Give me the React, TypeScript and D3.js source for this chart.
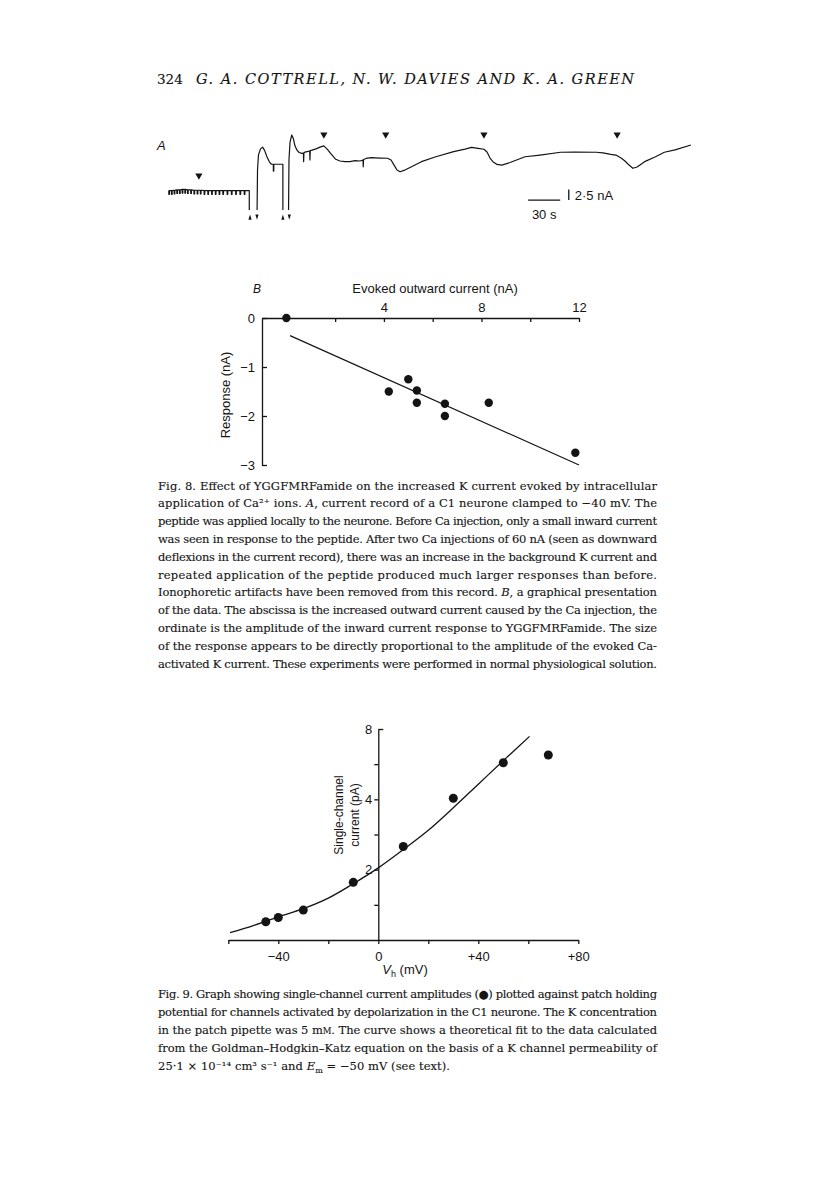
import React, { useRef, useEffect } from 'react';
import * as d3 from 'd3';

const SANS = '"Liberation Sans", Arial, sans-serif';
const SERIF = '"DejaVu Serif", serif';
const INK = '#141414';

// Fig. 8A current record: time (s), current (nA, relative to starting baseline)
const pulseTimes = [0.5, 3, 5.5, 8, 10.5, 13, 15.5, 18, 21, 24, 27, 30, 33.5, 37, 40.5, 44, 47.5, 51, 55, 59, 63, 67, 71];
const pulseLevels = [0, 0, 0.1, 0.2, 0.2, 0.3, 0.3, 0.2, 0.2, 0.1, 0.1, 0.1, 0, 0, 0, 0, 0, 0, 0, 0, 0, 0, 0];
const firstCaResponse = [
  [82.7, -4.5], [83.1, 4.85], [84.0, 8.4], [85.9, 9.8], [87.8, 10.2], [89.6, 9.5], [92.0, 7.9],
  [94.3, 6.7], [96.1, 6.2], [97.9, 6.2], [97.9, 4.6], [98.3, 4.6], [98.3, 6.2], [106.8, 6.2], [106.8, -4.5],
];
const secondCaResponse = [
  [112.1, -4.5], [112.5, 7.2], [113.5, 11.4], [115.1, 13.05], [116.7, 12.1], [118.1, 10.5], [120.0, 9.5],
  [121.9, 8.95], [124.5, 8.75], [126.0, 8.8], [126.2, 6.8], [126.5, 8.9], [127.5, 9.05], [130.3, 9.2],
  [131.9, 9.3], [132.1, 7.2], [132.4, 9.4], [134.0, 9.5], [137.8, 9.8], [141.5, 10.2], [145.1, 10.5],
  [148.0, 9.8], [151.8, 8.6], [156.2, 7.35], [160.2, 6.95], [164.9, 6.8], [169.5, 6.8], [174.2, 7.05],
  [178.9, 6.95], [181.7, 7.2], [181.9, 5.6], [182.2, 7.3], [184.5, 7.55], [189.5, 7.75], [197.6, 7.65],
  [204.6, 7.6], [207.9, 7.2], [210.7, 6.0], [213.5, 4.85], [216.3, 4.45], [220.0, 4.75], [225.6, 5.45],
  [236.3, 6.8], [249.0, 7.9], [266.4, 9.15], [277.0, 9.75], [283.0, 10.15], [289.2, 9.9], [294.7, 9.7],
  [297.6, 9.05], [300.4, 7.65], [303.1, 6.8], [306.9, 6.15], [311.4, 6.0], [319.1, 6.6], [333.1, 7.95],
  [347.1, 8.35], [366.4, 9.0], [379.8, 9.05], [399.8, 9.0], [406.0, 8.85], [413.2, 8.5], [418.1, 8.35],
  [423.2, 7.6], [426.5, 6.95], [430.3, 6.0], [433.9, 5.25], [437.8, 5.55], [444.9, 6.8], [454.6, 7.9],
  [463.3, 9.0], [473.3, 9.55], [488.2, 10.7],
];
const peptideTimes = [28.3, 145.1, 202.9, 294.7, 419.2];
const peptideLevels = [3.3, 12.9, 12.9, 12.9, 12.9];
const caStartTimes = [76.1, 106.8];
const caStopTimes = [82.6, 112.8];
const scaleBarTimes = [336, 366];
const scaleBarCurrents = [-2.2, 0.3];

// Fig. 8B
const evokedCurrent = [0, 4.2, 5.0, 5.35, 5.35, 6.5, 6.5, 8.3, 11.85];
const responseAmp = [0, -1.5, -1.25, -1.48, -1.73, -1.75, -2.0, -1.73, -2.75];
const fitEvoked = [0.15, 12];
const fitResponse = [-0.36, -3.0];
const evokedTicks = [2, 4, 6, 8, 10, 12];
const evokedLabelled = [4, 8, 12];
const responseTicks = [0, -1, -2, -3];

// Fig. 9
const holdingPotential = [-45, -40, -30, -10, 10, 30, 50, 68];
const channelCurrent = [0.52, 0.64, 0.85, 1.64, 2.66, 4.03, 5.04, 5.26];
const ghkV = [-59.3, -50, -40, -30, -20, -10, 0, 10, 20, 30, 40, 50, 60.5];
const ghkI = [0.21, 0.41, 0.66, 0.89, 1.19, 1.6, 2.05, 2.57, 3.12, 3.76, 4.43, 5.1, 5.79];
const vTicks = [-60, -40, -20, 0, 20, 40, 60, 80];
const vTickLabels = ['', '\u221240', '', '0', '', '+40', '', '+80'];
const iTicks = [1, 2, 3, 4, 5, 6];
const iTickLabels = ['', '2', '', '4', '', '8'];

const fig8Caption = [
  'Fig. 8. Effect of YGGFMRFamide on the increased K current evoked by intracellular',
  'application of Ca\u00b2\u207a ions. *A*, current record of a C1 neurone clamped to \u221240 mV. The',
  'peptide was applied locally to the neurone. Before Ca injection, only a small inward current',
  'was seen in response to the peptide. After two Ca injections of 60 nA (seen as downward',
  'deflexions in the current record), there was an increase in the background K current and',
  'repeated application of the peptide produced much larger responses than before.',
  'Ionophoretic artifacts have been removed from this record. *B*, a graphical presentation',
  'of the data. The abscissa is the increased outward current caused by the Ca injection, the',
  'ordinate is the amplitude of the inward current response to YGGFMRFamide. The size',
  'of the response appears to be directly proportional to the amplitude of the evoked Ca-',
  'activated K current. These experiments were performed in normal physiological solution.',
];
const fig9Caption = [
  'Fig. 9. Graph showing single-channel current amplitudes (\u25cf) plotted against patch holding',
  'potential for channels activated by depolarization in the C1 neurone. The K concentration',
  'in the patch pipette was 5 m^M^. The curve shows a theoretical fit to the data calculated',
  'from the Goldman\u2013Hodgkin\u2013Katz equation on the basis of a K channel permeability of',
  '25\u00b71 \u00d7 10\u207b\u00b9\u2074 cm\u00b3 s\u207b\u00b9 and *E*~m~ = \u221250 mV (see text).',
];
const fig9LastLineWidth = 292;

function parseRich(s) {
  return s.split(/(\*[^*]+\*|~[^~]+~|\^[^^]+\^)/).filter(p => p.length).map(p => {
    if (p[0] === '*') return { text: p.slice(1, -1), kind: 'italic' };
    if (p[0] === '~') return { text: p.slice(1, -1), kind: 'sub' };
    if (p[0] === '^') return { text: p.slice(1, -1), kind: 'small' };
    return { text: p, kind: 'normal' };
  });
}

function drawCaption(svg, lines, x, y0, lineGap, widths) {
  lines.forEach((line, i) => {
    const t = svg.append('text')
      .attr('x', x).attr('y', y0 + i * lineGap)
      .attr('font-family', SERIF).attr('font-size', 11.5).attr('fill', INK)
      .attr('stroke', INK).attr('stroke-width', 0.12)
      .attr('textLength', widths[i]).attr('lengthAdjust', 'spacing')
      .style('white-space', 'pre');
    let shift = 0;
    parseRich(line).forEach(p => {
      const s = t.append('tspan').text(p.text);
      if (p.kind === 'italic') s.attr('font-style', 'italic');
      if (p.kind === 'small') s.attr('font-size', 8.5);
      if (p.kind === 'sub') {
        s.attr('dy', 2.5).attr('font-size', 8);
        shift = 2.5;
        return;
      }
      if (shift) { s.attr('dy', -shift); shift = 0; }
    });
  });
}

function styleAxis(g) {
  g.attr('font-family', SANS).attr('font-size', 13);
  g.select('.domain').attr('stroke', INK).attr('stroke-width', 1.3);
  g.selectAll('.tick line').attr('stroke', INK).attr('stroke-width', 1.3);
  g.selectAll('.tick text').attr('fill', INK);
}

function Page() {
  const svgRef = useRef(null);

  useEffect(() => {
    const svg = d3.select(svgRef.current);
    svg.selectAll('*').remove();

    svg.append('rect').attr('width', 816).attr('height', 1181).attr('fill', '#fff');

    // running header
    svg.append('text').attr('x', 157).attr('y', 84)
      .attr('font-family', SERIF).attr('font-size', 13.5).attr('fill', INK)
      .attr('stroke', INK).attr('stroke-width', 0.15).text('324');
    svg.append('text').attr('x', 196).attr('y', 84)
      .attr('font-family', SERIF).attr('font-style', 'italic').attr('font-size', 14.5).attr('fill', INK)
      .attr('stroke', INK).attr('stroke-width', 0.15)
      .attr('textLength', 438).attr('lengthAdjust', 'spacing')
      .text('G. A. COTTRELL, N. W. DAVIES AND K. A. GREEN');

    // ---------- Fig 8A ----------
    const tx = d3.scaleLinear().domain([0, 490]).range([168.6, 692.9]);
    const ty = d3.scaleLinear().domain([0, 10]).range([190.7, 148]);
    const trace = d3.line().x(d => tx(d[0])).y(d => ty(d[1]));

    const baseline = [[0, 0]];
    pulseTimes.forEach((t, i) => {
      const lv = pulseLevels[i];
      baseline.push([t - 0.3, lv], [t - 0.3, lv - 0.85], [t + 0.3, lv - 0.85], [t + 0.3, lv]);
    });
    baseline.push([75.4, 0], [75.4, -4.5]);

    [baseline, firstCaResponse, secondCaResponse].forEach(seg => {
      svg.append('path').attr('d', trace(seg)).attr('fill', 'none')
        .attr('stroke', INK).attr('stroke-width', 1.2).attr('stroke-linejoin', 'round');
    });

    svg.append('g').selectAll('path').data(peptideTimes).join('path')
      .attr('transform', (t, i) => `translate(${tx(t)},${ty(peptideLevels[i])})`)
      .attr('d', 'M-3.6,-3 L3.6,-3 L0,3.2 Z').attr('fill', INK);
    svg.append('g').selectAll('path').data(caStartTimes).join('path')
      .attr('transform', t => `translate(${tx(t)},${ty(-6.2)})`)
      .attr('d', 'M-1.6,2.6 L1.6,2.6 L0,-2.6 Z').attr('fill', INK);
    svg.append('g').selectAll('path').data(caStopTimes).join('path')
      .attr('transform', t => `translate(${tx(t)},${ty(-6.2)})`)
      .attr('d', 'M-1.6,-2.6 L1.6,-2.6 L0,2.6 Z').attr('fill', INK);

    // scale bars
    svg.append('line')
      .attr('x1', tx(scaleBarTimes[0])).attr('x2', tx(scaleBarTimes[1]))
      .attr('y1', ty(scaleBarCurrents[0])).attr('y2', ty(scaleBarCurrents[0]))
      .attr('stroke', INK).attr('stroke-width', 1.3);
    svg.append('line')
      .attr('x1', tx(374)).attr('x2', tx(374))
      .attr('y1', ty(scaleBarCurrents[0])).attr('y2', ty(scaleBarCurrents[1]))
      .attr('stroke', INK).attr('stroke-width', 1.3);
    svg.append('text').attr('x', tx(374) + 6).attr('y', 199.5)
      .attr('font-family', SANS).attr('font-size', 13).attr('fill', INK).text('2\u00b75 nA');
    svg.append('text').attr('x', tx(351)).attr('y', 219).attr('text-anchor', 'middle')
      .attr('font-family', SANS).attr('font-size', 13).attr('fill', INK).text('30 s');
    svg.append('text').attr('x', 157).attr('y', 150)
      .attr('font-family', SANS).attr('font-style', 'italic').attr('font-size', 13).attr('fill', INK).text('A');

    // ---------- Fig 8B ----------
    const bx = d3.scaleLinear().domain([-1, 12]).range([262, 579]);
    const by = d3.scaleLinear().domain([-3, 0]).range([465, 318]);

    const topAxis = svg.append('g').attr('transform', `translate(0,${by(0)})`)
      .call(d3.axisTop(bx).tickValues(evokedTicks).tickSizeInner(-4).tickSizeOuter(0).tickPadding(6)
        .tickFormat(d => (evokedLabelled.includes(d) ? String(d) : '')));
    styleAxis(topAxis);

    const leftAxis = svg.append('g').attr('transform', `translate(${bx(-1)},0)`)
      .call(d3.axisLeft(by).tickValues(responseTicks).tickSizeInner(-5).tickSizeOuter(0).tickPadding(7)
        .tickFormat(d3.format('d')));
    styleAxis(leftAxis);

    svg.append('line')
      .attr('x1', bx(fitEvoked[0])).attr('y1', by(fitResponse[0]))
      .attr('x2', bx(fitEvoked[1])).attr('y2', by(fitResponse[1]))
      .attr('stroke', INK).attr('stroke-width', 1.2);

    svg.append('g').selectAll('circle').data(evokedCurrent).join('circle')
      .attr('cx', d => bx(d)).attr('cy', (d, i) => by(responseAmp[i]))
      .attr('r', 4.2).attr('fill', INK);

    svg.append('text').attr('x', 435).attr('y', 293).attr('text-anchor', 'middle')
      .attr('font-family', SANS).attr('font-size', 13).attr('fill', INK).text('Evoked outward current (nA)');
    svg.append('text').attr('x', 253).attr('y', 293)
      .attr('font-family', SANS).attr('font-style', 'italic').attr('font-size', 12).attr('fill', INK).text('B');
    svg.append('text').attr('transform', 'translate(229.5,395) rotate(-90)').attr('text-anchor', 'middle')
      .attr('font-family', SANS).attr('font-size', 13).attr('fill', INK).text('Response (nA)');

    drawCaption(svg, fig8Caption, 158, 489.5, 17.8, fig8Caption.map(() => 499));

    // ---------- Fig 9 ----------
    const vx = d3.scaleLinear().domain([-60, 80]).range([228.3, 578.3]);
    const iy = d3.scaleLinear().domain([0, 6]).range([940, 729]);

    const xAxis9 = svg.append('g').attr('transform', `translate(0,${iy(0)})`)
      .call(d3.axisBottom(vx).tickValues(vTicks).tickSizeInner(4).tickSizeOuter(0).tickPadding(8)
        .tickFormat((d, i) => vTickLabels[i]));
    styleAxis(xAxis9);

    const yAxis9 = svg.append('g').attr('transform', `translate(${vx(0)},0)`)
      .call(d3.axisLeft(iy).tickValues(iTicks).tickSizeInner(4).tickSizeOuter(0).tickPadding(2)
        .tickFormat((d, i) => iTickLabels[i]));
    styleAxis(yAxis9);
    yAxis9.selectAll('.tick').filter(d => d === 6).select('line').attr('x2', 5);

    const ghk = d3.line().curve(d3.curveCatmullRom.alpha(0.5))
      .x(d => vx(d[0])).y(d => iy(d[1]));
    svg.append('path').attr('d', ghk(ghkV.map((v, i) => [v, ghkI[i]])))
      .attr('fill', 'none').attr('stroke', INK).attr('stroke-width', 1.3);

    svg.append('g').selectAll('circle').data(holdingPotential).join('circle')
      .attr('cx', d => vx(d)).attr('cy', (d, i) => iy(channelCurrent[i]))
      .attr('r', 4.5).attr('fill', INK);

    const yt = svg.append('g').attr('font-family', SANS).attr('font-size', 12).attr('fill', INK)
      .attr('text-anchor', 'middle');
    yt.append('text').attr('transform', 'translate(342.5,815) rotate(-90)').text('Single-channel');
    yt.append('text').attr('transform', 'translate(359,815) rotate(-90)').text('current (pA)');

    const xl = svg.append('text').attr('x', 405).attr('y', 974).attr('text-anchor', 'middle')
      .attr('font-family', SANS).attr('font-size', 13).attr('fill', INK).style('white-space', 'pre');
    xl.append('tspan').attr('font-style', 'italic').text('V');
    xl.append('tspan').attr('dy', 3).attr('font-size', 9).text('h');
    xl.append('tspan').attr('dy', -3).text(' (mV)');

    drawCaption(svg, fig9Caption, 158, 998, 18,
      fig9Caption.map((l, i) => (i === fig9Caption.length - 1 ? fig9LastLineWidth : 499)));
  }, []);

  return (
    <svg ref={svgRef} width={816} height={1181}
      style={{ position: 'absolute', left: 0, top: 0, background: '#fff' }} />
  );
}

export default function App() {
  return <Page />;
}
